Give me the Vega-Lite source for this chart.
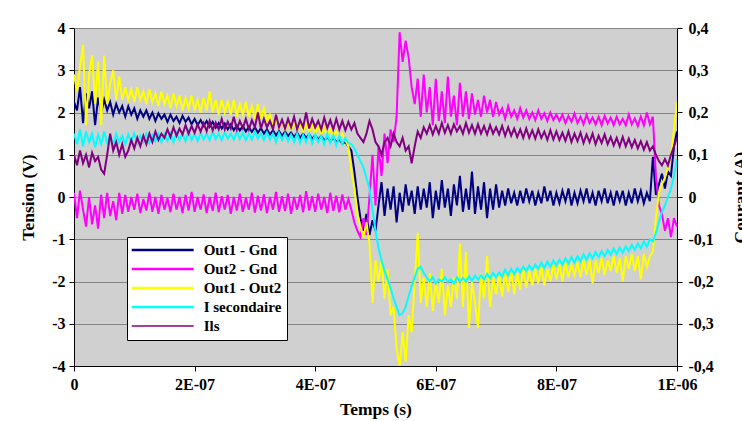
{
"$schema": "https://vega.github.io/schema/vega-lite/v6.json",
"width": 603, "height": 338,
"autosize": {"type": "none"},
"padding": {"left": 74, "top": 28, "right": 65, "bottom": 55},
"background": "white",
"config": {
  "view": {"fill": "#D0D0D0", "stroke": null},
  "font": "Liberation Serif",
  "axis": {"domainColor": "black", "domainWidth": 1, "tickColor": "black", "tickSize": 5, "labelColor": "black", "labelFont": "Liberation Serif", "labelFontWeight": "bold", "labelFontSize": 16, "titleColor": "black", "titleFont": "Liberation Serif", "titleFontWeight": "bold", "titleFontSize": 17.5, "gridColor": "#858585", "gridWidth": 1, "gridOpacity": 1}
},
"data": {"values": [
{"t":0,"a":2.25,"b":0.1,"c":2.9,"d":0.15,"e":0.1},
{"t":5e-9,"a":2.05,"b":-0.5,"c":2.5,"d":0.125,"e":0.075},
{"t":10e-9,"a":2.6,"b":0.15,"c":3.1,"d":0.16,"e":0.11},
{"t":15e-9,"a":1.75,"b":-0.3,"c":3.6,"d":0.12,"e":0.08},
{"t":20e-9,"a":2.45,"b":-0.7,"c":1.7,"d":0.155,"e":0.1},
{"t":25e-9,"a":2.1,"b":0.0,"c":2.9,"d":0.13,"e":0.07},
{"t":30e-9,"a":2.5,"b":-0.65,"c":3.35,"d":0.15,"e":0.105},
{"t":35e-9,"a":1.7,"b":-0.2,"c":2.2,"d":0.118,"e":0.085},
{"t":40e-9,"a":2.35,"b":-0.75,"c":3.2,"d":0.148,"e":0.095},
{"t":45e-9,"a":2.0,"b":0.05,"c":1.7,"d":0.125,"e":0.065},
{"t":50e-9,"a":2.3,"b":-0.5,"c":3.35,"d":0.155,"e":0.055},
{"t":55e-9,"a":2.05,"b":0.1,"c":2.2,"d":0.128,"e":0.1},
{"t":60e-9,"a":2.25,"b":-0.45,"c":2.7,"d":0.145,"e":0.15},
{"t":65e-9,"a":1.95,"b":-0.1,"c":3.0,"d":0.122,"e":0.11},
{"t":70e-9,"a":2.2,"b":-0.55,"c":2.3,"d":0.15,"e":0.13},
{"t":75e-9,"a":2.0,"b":0.1,"c":2.85,"d":0.13,"e":0.1},
{"t":80e-9,"a":2.15,"b":-0.4,"c":2.3,"d":0.145,"e":0.125},
{"t":85e-9,"a":1.9,"b":0.05,"c":2.6,"d":0.125,"e":0.095},
{"t":90e-9,"a":2.15,"b":-0.35,"c":2.3,"d":0.148,"e":0.11},
{"t":95e-9,"a":1.95,"b":0.0,"c":2.55,"d":0.13,"e":0.135},
{"t":100e-9,"a":2.1,"b":-0.3,"c":2.25,"d":0.15,"e":0.115},
{"t":105e-9,"a":1.85,"b":0.08,"c":2.6,"d":0.127,"e":0.14},
{"t":110e-9,"a":2.05,"b":-0.38,"c":2.3,"d":0.145,"e":0.12},
{"t":115e-9,"a":1.9,"b":-0.05,"c":2.5,"d":0.13,"e":0.145},
{"t":120e-9,"a":2.05,"b":-0.32,"c":2.2,"d":0.15,"e":0.125},
{"t":125e-9,"a":1.85,"b":0.1,"c":2.55,"d":0.128,"e":0.15},
{"t":130e-9,"a":2.0,"b":-0.35,"c":2.25,"d":0.146,"e":0.13},
{"t":135e-9,"a":1.8,"b":0.0,"c":2.45,"d":0.132,"e":0.155},
{"t":140e-9,"a":1.98,"b":-0.4,"c":2.15,"d":0.15,"e":0.135},
{"t":145e-9,"a":1.85,"b":0.05,"c":2.5,"d":0.13,"e":0.15},
{"t":150e-9,"a":1.95,"b":-0.3,"c":2.2,"d":0.148,"e":0.14},
{"t":155e-9,"a":1.78,"b":-0.02,"c":2.4,"d":0.133,"e":0.16},
{"t":160e-9,"a":1.95,"b":-0.36,"c":2.1,"d":0.15,"e":0.142},
{"t":165e-9,"a":1.8,"b":0.08,"c":2.45,"d":0.13,"e":0.165},
{"t":170e-9,"a":1.9,"b":-0.3,"c":2.15,"d":0.152,"e":0.145},
{"t":175e-9,"a":1.75,"b":0.0,"c":2.4,"d":0.135,"e":0.162},
{"t":180e-9,"a":1.92,"b":-0.38,"c":2.05,"d":0.15,"e":0.148},
{"t":185e-9,"a":1.78,"b":0.05,"c":2.35,"d":0.132,"e":0.17},
{"t":190e-9,"a":1.88,"b":-0.32,"c":2.1,"d":0.155,"e":0.15},
{"t":195e-9,"a":1.72,"b":0.12,"c":2.4,"d":0.135,"e":0.168},
{"t":200e-9,"a":1.85,"b":-0.35,"c":2.05,"d":0.15,"e":0.152},
{"t":205e-9,"a":1.7,"b":0.0,"c":2.3,"d":0.133,"e":0.172},
{"t":210e-9,"a":1.82,"b":-0.3,"c":2.0,"d":0.152,"e":0.155},
{"t":215e-9,"a":1.68,"b":0.06,"c":2.35,"d":0.136,"e":0.175},
{"t":220e-9,"a":1.8,"b":-0.38,"c":2.05,"d":0.15,"e":0.156},
{"t":225e-9,"a":1.66,"b":0.0,"c":2.5,"d":0.134,"e":0.18},
{"t":230e-9,"a":1.78,"b":-0.33,"c":2.0,"d":0.155,"e":0.158},
{"t":235e-9,"a":1.64,"b":0.1,"c":2.3,"d":0.137,"e":0.176},
{"t":240e-9,"a":1.75,"b":-0.36,"c":1.95,"d":0.15,"e":0.16},
{"t":245e-9,"a":1.62,"b":0.02,"c":2.3,"d":0.135,"e":0.185},
{"t":250e-9,"a":1.74,"b":-0.3,"c":2.0,"d":0.153,"e":0.16},
{"t":255e-9,"a":1.6,"b":0.05,"c":2.25,"d":0.138,"e":0.178},
{"t":260e-9,"a":1.72,"b":-0.4,"c":1.95,"d":0.15,"e":0.162},
{"t":265e-9,"a":1.58,"b":0.0,"c":2.3,"d":0.136,"e":0.19},
{"t":270e-9,"a":1.7,"b":-0.32,"c":1.9,"d":0.155,"e":0.16},
{"t":275e-9,"a":1.57,"b":0.08,"c":2.2,"d":0.137,"e":0.18},
{"t":280e-9,"a":1.68,"b":-0.35,"c":1.95,"d":0.152,"e":0.163},
{"t":285e-9,"a":1.55,"b":-0.02,"c":2.25,"d":0.135,"e":0.185},
{"t":290e-9,"a":1.66,"b":-0.3,"c":1.9,"d":0.15,"e":0.16},
{"t":295e-9,"a":1.54,"b":0.1,"c":2.15,"d":0.136,"e":0.182},
{"t":300e-9,"a":1.65,"b":-0.37,"c":1.85,"d":0.154,"e":0.165},
{"t":305e-9,"a":1.52,"b":0.03,"c":2.2,"d":0.138,"e":0.2},
{"t":310e-9,"a":1.63,"b":-0.32,"c":1.85,"d":0.15,"e":0.162},
{"t":315e-9,"a":1.5,"b":0.06,"c":2.1,"d":0.135,"e":0.185},
{"t":320e-9,"a":1.6,"b":-0.38,"c":1.8,"d":0.153,"e":0.165},
{"t":325e-9,"a":1.48,"b":0.0,"c":1.95,"d":0.136,"e":0.18},
{"t":330e-9,"a":1.58,"b":-0.3,"c":1.7,"d":0.15,"e":0.16},
{"t":335e-9,"a":1.46,"b":0.12,"c":1.85,"d":0.13,"e":0.195},
{"t":340e-9,"a":1.56,"b":-0.35,"c":1.65,"d":0.152,"e":0.165},
{"t":345e-9,"a":1.45,"b":0.02,"c":1.8,"d":0.135,"e":0.183},
{"t":350e-9,"a":1.55,"b":-0.33,"c":1.6,"d":0.15,"e":0.162},
{"t":355e-9,"a":1.44,"b":0.08,"c":1.75,"d":0.132,"e":0.185},
{"t":360e-9,"a":1.53,"b":-0.4,"c":1.6,"d":0.148,"e":0.165},
{"t":365e-9,"a":1.42,"b":0.0,"c":1.78,"d":0.13,"e":0.19},
{"t":370e-9,"a":1.52,"b":-0.3,"c":1.58,"d":0.15,"e":0.16},
{"t":375e-9,"a":1.4,"b":0.05,"c":1.75,"d":0.128,"e":0.182},
{"t":380e-9,"a":1.5,"b":-0.36,"c":1.55,"d":0.147,"e":0.165},
{"t":385e-9,"a":1.4,"b":0.14,"c":1.72,"d":0.13,"e":0.2},
{"t":390e-9,"a":1.48,"b":-0.32,"c":1.55,"d":0.15,"e":0.162},
{"t":395e-9,"a":1.38,"b":0.02,"c":1.7,"d":0.127,"e":0.185},
{"t":400e-9,"a":1.46,"b":-0.35,"c":1.5,"d":0.148,"e":0.165},
{"t":405e-9,"a":1.36,"b":0.08,"c":1.68,"d":0.13,"e":0.18},
{"t":410e-9,"a":1.44,"b":-0.3,"c":1.5,"d":0.145,"e":0.16},
{"t":415e-9,"a":1.34,"b":0.0,"c":1.65,"d":0.125,"e":0.188},
{"t":420e-9,"a":1.42,"b":-0.38,"c":1.45,"d":0.15,"e":0.163},
{"t":425e-9,"a":1.32,"b":0.1,"c":1.6,"d":0.128,"e":0.182},
{"t":430e-9,"a":1.4,"b":-0.33,"c":1.45,"d":0.146,"e":0.16},
{"t":435e-9,"a":1.3,"b":0.03,"c":1.55,"d":0.122,"e":0.185},
{"t":440e-9,"a":1.36,"b":-0.36,"c":1.4,"d":0.145,"e":0.16},
{"t":445e-9,"a":1.26,"b":0.06,"c":1.5,"d":0.125,"e":0.18},
{"t":450e-9,"a":1.3,"b":-0.3,"c":1.35,"d":0.14,"e":0.158},
{"t":455e-9,"a":1.2,"b":-0.05,"c":1.2,"d":0.128,"e":0.178},
{"t":460e-9,"a":1.1,"b":-0.3,"c":0.6,"d":0.125,"e":0.16},
{"t":465e-9,"a":0.6,"b":-0.6,"c":0.2,"d":0.115,"e":0.175},
{"t":470e-9,"a":0.0,"b":-0.8,"c":-0.4,"d":0.1,"e":0.15},
{"t":475e-9,"a":-0.5,"b":-0.95,"c":-0.7,"d":0.085,"e":0.14},
{"t":480e-9,"a":-0.8,"b":-0.5,"c":-0.95,"d":0.07,"e":0.13},
{"t":485e-9,"a":-0.4,"b":-0.9,"c":-0.6,"d":0.045,"e":0.15},
{"t":490e-9,"a":-0.9,"b":0.0,"c":-1.1,"d":0.02,"e":0.18},
{"t":495e-9,"a":-0.55,"b":1.0,"c":-2.5,"d":-0.03,"e":0.16},
{"t":500e-9,"a":-0.8,"b":-0.2,"c":-1.5,"d":-0.08,"e":0.13},
{"t":505e-9,"a":-0.2,"b":1.2,"c":-2.0,"d":-0.12,"e":0.12},
{"t":510e-9,"a":0.35,"b":0.5,"c":-1.5,"d":-0.15,"e":0.1},
{"t":515e-9,"a":-0.45,"b":1.5,"c":-2.4,"d":-0.175,"e":0.13},
{"t":520e-9,"a":0.2,"b":0.8,"c":-1.7,"d":-0.195,"e":0.14},
{"t":525e-9,"a":-0.3,"b":1.6,"c":-2.8,"d":-0.215,"e":0.12},
{"t":530e-9,"a":0.25,"b":1.3,"c":-2.6,"d":-0.24,"e":0.15},
{"t":535e-9,"a":-0.6,"b":1.9,"c":-3.6,"d":-0.26,"e":0.13},
{"t":540e-9,"a":0.1,"b":3.9,"c":-4.0,"d":-0.28,"e":0.12},
{"t":545e-9,"a":-0.35,"b":3.2,"c":-3.2,"d":-0.275,"e":0.14},
{"t":550e-9,"a":0.3,"b":3.7,"c":-3.9,"d":-0.26,"e":0.11},
{"t":555e-9,"a":-0.2,"b":3.3,"c":-2.8,"d":-0.235,"e":0.12},
{"t":560e-9,"a":0.15,"b":2.6,"c":-3.2,"d":-0.21,"e":0.08},
{"t":565e-9,"a":-0.4,"b":2.2,"c":-2.0,"d":-0.19,"e":0.12},
{"t":570e-9,"a":0.25,"b":2.8,"c":-0.85,"d":-0.17,"e":0.155},
{"t":575e-9,"a":-0.3,"b":1.9,"c":-2.5,"d":-0.165,"e":0.14},
{"t":580e-9,"a":0.2,"b":2.9,"c":-1.9,"d":-0.18,"e":0.165},
{"t":585e-9,"a":-0.25,"b":2.0,"c":-2.6,"d":-0.19,"e":0.15},
{"t":590e-9,"a":0.35,"b":2.6,"c":-1.8,"d":-0.2,"e":0.17},
{"t":595e-9,"a":-0.5,"b":1.7,"c":-2.7,"d":-0.19,"e":0.148},
{"t":600e-9,"a":0.15,"b":2.8,"c":-2.0,"d":-0.205,"e":0.168},
{"t":605e-9,"a":-0.3,"b":1.8,"c":-2.5,"d":-0.195,"e":0.15},
{"t":610e-9,"a":0.4,"b":2.5,"c":-1.7,"d":-0.2,"e":0.175},
{"t":615e-9,"a":-0.25,"b":1.75,"c":-2.8,"d":-0.19,"e":0.152},
{"t":620e-9,"a":0.2,"b":2.85,"c":-2.1,"d":-0.2,"e":0.17},
{"t":625e-9,"a":-0.45,"b":1.9,"c":-2.6,"d":-0.195,"e":0.15},
{"t":630e-9,"a":0.3,"b":2.4,"c":-1.9,"d":-0.205,"e":0.172},
{"t":635e-9,"a":-0.2,"b":1.7,"c":-2.4,"d":-0.19,"e":0.155},
{"t":640e-9,"a":0.5,"b":2.7,"c":-1.1,"d":-0.2,"e":0.168},
{"t":645e-9,"a":-0.35,"b":1.9,"c":-2.6,"d":-0.192,"e":0.15},
{"t":650e-9,"a":0.2,"b":2.5,"c":-1.3,"d":-0.2,"e":0.175},
{"t":655e-9,"a":-0.3,"b":1.85,"c":-3.1,"d":-0.188,"e":0.152},
{"t":660e-9,"a":0.6,"b":2.45,"c":-2.0,"d":-0.198,"e":0.17},
{"t":665e-9,"a":-0.4,"b":1.95,"c":-2.5,"d":-0.186,"e":0.15},
{"t":670e-9,"a":0.25,"b":2.3,"c":-3.1,"d":-0.196,"e":0.172},
{"t":675e-9,"a":-0.3,"b":1.9,"c":-1.8,"d":-0.185,"e":0.15},
{"t":680e-9,"a":0.35,"b":2.4,"c":-2.4,"d":-0.195,"e":0.168},
{"t":685e-9,"a":-0.5,"b":2.0,"c":-1.4,"d":-0.182,"e":0.148},
{"t":690e-9,"a":0.2,"b":2.3,"c":-2.6,"d":-0.192,"e":0.17},
{"t":695e-9,"a":-0.3,"b":1.9,"c":-1.9,"d":-0.18,"e":0.15},
{"t":700e-9,"a":0.3,"b":2.25,"c":-2.3,"d":-0.19,"e":0.165},
{"t":705e-9,"a":-0.25,"b":1.95,"c":-1.85,"d":-0.178,"e":0.148},
{"t":710e-9,"a":0.15,"b":2.1,"c":-2.35,"d":-0.188,"e":0.168},
{"t":715e-9,"a":-0.2,"b":1.85,"c":-1.8,"d":-0.172,"e":0.145},
{"t":720e-9,"a":0.2,"b":2.15,"c":-2.25,"d":-0.185,"e":0.165},
{"t":725e-9,"a":-0.15,"b":1.9,"c":-1.75,"d":-0.17,"e":0.145},
{"t":730e-9,"a":0.1,"b":2.05,"c":-2.3,"d":-0.182,"e":0.162},
{"t":735e-9,"a":-0.2,"b":1.85,"c":-1.8,"d":-0.168,"e":0.142},
{"t":740e-9,"a":0.15,"b":2.1,"c":-2.2,"d":-0.178,"e":0.16},
{"t":745e-9,"a":-0.15,"b":1.88,"c":-1.7,"d":-0.165,"e":0.14},
{"t":750e-9,"a":0.2,"b":2.05,"c":-2.15,"d":-0.175,"e":0.162},
{"t":755e-9,"a":-0.1,"b":1.85,"c":-1.75,"d":-0.162,"e":0.14},
{"t":760e-9,"a":0.15,"b":2.0,"c":-2.1,"d":-0.172,"e":0.158},
{"t":765e-9,"a":-0.2,"b":1.82,"c":-1.7,"d":-0.16,"e":0.138},
{"t":770e-9,"a":0.1,"b":2.05,"c":-2.05,"d":-0.17,"e":0.16},
{"t":775e-9,"a":-0.15,"b":1.85,"c":-1.65,"d":-0.155,"e":0.14},
{"t":780e-9,"a":0.25,"b":1.98,"c":-2.1,"d":-0.168,"e":0.155},
{"t":785e-9,"a":-0.1,"b":1.8,"c":-1.7,"d":-0.153,"e":0.135},
{"t":790e-9,"a":0.15,"b":2.0,"c":-2.0,"d":-0.165,"e":0.158},
{"t":795e-9,"a":-0.2,"b":1.82,"c":-1.6,"d":-0.15,"e":0.136},
{"t":800e-9,"a":0.1,"b":1.95,"c":-1.95,"d":-0.162,"e":0.155},
{"t":805e-9,"a":-0.15,"b":1.8,"c":-1.6,"d":-0.148,"e":0.135},
{"t":810e-9,"a":0.15,"b":1.95,"c":-2.0,"d":-0.16,"e":0.152},
{"t":815e-9,"a":-0.1,"b":1.75,"c":-1.55,"d":-0.145,"e":0.133},
{"t":820e-9,"a":0.2,"b":1.92,"c":-1.9,"d":-0.157,"e":0.155},
{"t":825e-9,"a":-0.2,"b":1.78,"c":-1.6,"d":-0.142,"e":0.13},
{"t":830e-9,"a":0.1,"b":1.98,"c":-1.85,"d":-0.155,"e":0.15},
{"t":835e-9,"a":-0.15,"b":1.75,"c":-1.55,"d":-0.14,"e":0.132},
{"t":840e-9,"a":0.15,"b":1.9,"c":-1.9,"d":-0.152,"e":0.152},
{"t":845e-9,"a":-0.1,"b":1.72,"c":-1.5,"d":-0.136,"e":0.128},
{"t":850e-9,"a":0.2,"b":1.95,"c":-1.85,"d":-0.148,"e":0.148},
{"t":855e-9,"a":-0.15,"b":1.75,"c":-1.5,"d":-0.133,"e":0.13},
{"t":860e-9,"a":0.1,"b":1.88,"c":-2.05,"d":-0.145,"e":0.15},
{"t":865e-9,"a":-0.2,"b":1.72,"c":-1.5,"d":-0.13,"e":0.125},
{"t":870e-9,"a":0.15,"b":1.9,"c":-1.8,"d":-0.142,"e":0.145},
{"t":875e-9,"a":-0.1,"b":1.7,"c":-1.45,"d":-0.128,"e":0.128},
{"t":880e-9,"a":0.2,"b":1.92,"c":-1.85,"d":-0.14,"e":0.148},
{"t":885e-9,"a":-0.15,"b":1.74,"c":-1.5,"d":-0.125,"e":0.125},
{"t":890e-9,"a":0.1,"b":1.88,"c":-1.75,"d":-0.137,"e":0.142},
{"t":895e-9,"a":-0.2,"b":1.7,"c":-1.4,"d":-0.122,"e":0.122},
{"t":900e-9,"a":0.15,"b":1.9,"c":-1.8,"d":-0.135,"e":0.14},
{"t":905e-9,"a":-0.1,"b":1.72,"c":-1.45,"d":-0.12,"e":0.12},
{"t":910e-9,"a":0.15,"b":1.85,"c":-2.0,"d":-0.132,"e":0.142},
{"t":915e-9,"a":-0.2,"b":1.7,"c":-1.4,"d":-0.117,"e":0.12},
{"t":920e-9,"a":0.1,"b":1.95,"c":-1.7,"d":-0.128,"e":0.138},
{"t":925e-9,"a":-0.15,"b":1.72,"c":-1.35,"d":-0.113,"e":0.118},
{"t":930e-9,"a":0.2,"b":1.86,"c":-1.75,"d":-0.125,"e":0.135},
{"t":935e-9,"a":-0.1,"b":1.68,"c":-1.4,"d":-0.11,"e":0.115},
{"t":940e-9,"a":0.15,"b":1.9,"c":-1.95,"d":-0.122,"e":0.132},
{"t":945e-9,"a":-0.15,"b":1.7,"c":-1.35,"d":-0.105,"e":0.112},
{"t":950e-9,"a":0.1,"b":2.0,"c":-1.65,"d":-0.118,"e":0.13},
{"t":955e-9,"a":-0.1,"b":1.72,"c":-1.4,"d":-0.1,"e":0.11},
{"t":960e-9,"a":0.95,"b":1.9,"c":-1.3,"d":-0.105,"e":0.12},
{"t":965e-9,"a":0.05,"b":0.5,"c":-0.5,"d":-0.085,"e":0.1},
{"t":970e-9,"a":0.3,"b":-0.2,"c":0.1,"d":-0.06,"e":0.085},
{"t":975e-9,"a":0.55,"b":-0.4,"c":0.3,"d":-0.035,"e":0.075},
{"t":980e-9,"a":0.2,"b":-0.8,"c":0.45,"d":-0.02,"e":0.09},
{"t":985e-9,"a":0.6,"b":-0.5,"c":0.7,"d":0.0,"e":0.075},
{"t":990e-9,"a":0.5,"b":-0.95,"c":1.0,"d":0.02,"e":0.1},
{"t":995e-9,"a":1.2,"b":-0.5,"c":1.6,"d":0.05,"e":0.12},
{"t":1000e-9,"a":1.55,"b":-0.7,"c":2.25,"d":0.09,"e":0.14}
]},
"layer": [
  {
    "transform": [{"fold": ["a", "b", "c"], "as": ["k", "v"]}],
    "mark": {"type": "line", "strokeWidth": 2, "clip": true},
    "encoding": {
      "x": {"field": "t", "type": "quantitative", "scale": {"domain": [0, 1e-6], "nice": false, "zero": false},
        "axis": {"title": "Temps (s)", "values": [0, 2e-7, 4e-7, 6e-7, 8e-7, 1e-6], "grid": false, "labelPadding": 5, "labelFlush": false, "labelOverlap": false, "labelExpr": "datum.value == 0 ? '0' : (datum.value > 9.9e-7 ? '1E-06' : round(datum.value * 1e7) + 'E-07')", "titleY": 48, "titleBaseline": "alphabetic"}},
      "y": {"field": "v", "type": "quantitative", "scale": {"domain": [-4, 4], "nice": false},
        "axis": {"title": "Tension (V)", "values": [-4, -3, -2, -1, 0, 1, 2, 3, 4], "grid": true, "labelPadding": 4, "labelExpr": "'' + datum.value", "titleAngle": 270, "titleX": -46, "titleY": 169, "titleAlign": "center", "titleBaseline": "middle"}},
      "color": {"field": "k", "type": "nominal",
        "scale": {"domain": ["a", "b", "c", "d", "e"], "range": ["#000080", "#FF00FF", "#FFFF00", "#00FFFF", "#800080"]},
        "legend": {"orient": "none", "legendX": 53, "legendY": 209, "title": null, "symbolType": "M-6.2,0H6.2", "symbolSize": 100, "symbolStrokeWidth": 2.5, "symbolOffset": 22.7, "labelOffset": 33.5, "labelFont": "Liberation Serif", "labelFontWeight": "bold", "labelFontSize": 15, "labelColor": "black", "fillColor": "white", "strokeColor": "black", "padding": 5.5, "rowPadding": 3,
          "labelExpr": "datum.label == 'a' ? 'Out1 - Gnd' : datum.label == 'b' ? 'Out2 - Gnd' : datum.label == 'c' ? 'Out1 - Out2' : datum.label == 'd' ? 'I secondaire' : 'Ils'",
          "encode": {"symbols": {"update": {"strokeWidth": {"signal": "datum.value == 'e' ? 1.5 : 2.5"}}}}}}
    }
  },
  {
    "transform": [{"fold": ["d", "e"], "as": ["k", "v"]}],
    "mark": {"type": "line", "strokeWidth": 2, "clip": true},
    "encoding": {
      "x": {"field": "t", "type": "quantitative"},
      "y": {"field": "v", "type": "quantitative", "scale": {"domain": [-0.4, 0.4], "nice": false},
        "axis": {"orient": "right", "title": "Courant (A)", "values": [-0.4, -0.3, -0.2, -0.1, 0, 0.1, 0.2, 0.3, 0.4], "grid": false, "labelPadding": 6, "labelExpr": "datum.value == 0 ? '0' : (datum.value < 0 ? '-' : '') + '0,' + round(abs(datum.value) * 10)", "titleAngle": 270, "titleX": 63, "titleY": 169, "titleAlign": "center", "titleBaseline": "middle"}},
      "color": {"field": "k", "type": "nominal"}
    }
  }
],
"resolve": {"scale": {"y": "independent"}}
}
